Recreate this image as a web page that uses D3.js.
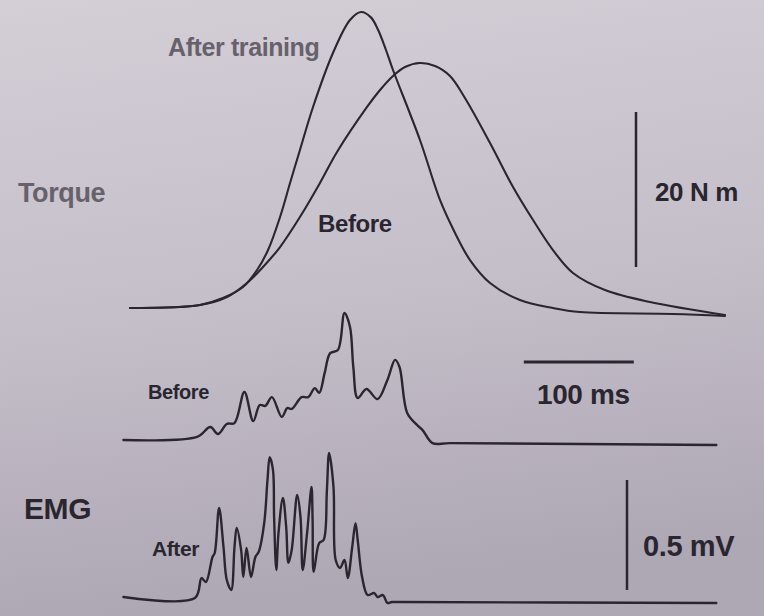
<!DOCTYPE html>
<html>
<head>
<meta charset="utf-8">
<title>Torque and EMG before / after training</title>
<script src="https://d3js.org/d3.v7.min.js"></script>
<style>
  body { margin: 0; }
  svg text { font-family: "Liberation Sans", Arial, sans-serif; font-weight: bold; }
</style>
</head>
<body>
<div id="chart"></div>
<script>
// time in ms, torque in N m
var torqueAfter = [[0,0],[45.5,0.13],[63.6,0.39],[84.5,1.29],[102.7,2.71],[115.5,4.9],[125.5,7.48],[136.4,11.74],[145.5,16.13],[154.5,20.39],[166.4,25.94],[184.5,32.9],[200,37.16],[210,38.19],[219,37.5],[225.5,35.9],[232.7,33.29],[239.1,30.71],[263.6,21.68],[281.8,13.94],[295.5,9.68],[309.1,6.19],[327.3,3.23],[354.5,1.03],[384.5,0],[409.1,-0.52],[493.6,-0.77],[540.9,-1.03]];
var torqueBefore = [[0,0],[63.6,0.39],[88.2,1.42],[106.4,3.23],[120.9,5.29],[136.4,7.87],[154.5,11.74],[172.7,16.13],[188.2,20.13],[215.5,25.94],[227.3,28.13],[239.1,29.94],[250,31.1],[263.6,31.61],[277.3,31.23],[290.9,29.94],[304.5,27.1],[327.3,21.29],[348.2,15.61],[366.4,11.35],[384.5,7.48],[402.7,4.52],[431.8,2.32],[472.7,0.77],[540.9,-0.9]];

// time in ms, rectified EMG in mV
var emgBefore = [[-6,0],[61,0.014],[73,0.059],[80,0.027],[88,0.073],[95,0.077],[104,0.218],[112,0.086],[118,0.159],[123,0.155],[129,0.195],[138,0.105],[143,0.145],[147,0.141],[156,0.195],[162,0.195],[168,0.236],[172,0.214],[177,0.305],[182,0.395],[189,0.409],[195,0.577],[200,0.514],[203,0.332],[207,0.191],[215,0.232],[225,0.186],[234,0.273],[241,0.364],[245,0.332],[252,0.123],[261,0.068],[266,0.045],[275,-0.014],[291,-0.014],[533,-0.023]];
var emgAfter = [[-6,0],[59,-0.005],[65,0.086],[69,0.068],[75,0.182],[77,0.2],[81,0.405],[85,0.227],[88,0.077],[92,0.032],[95,0.227],[97,0.314],[101,0.214],[103,0.091],[106,0.223],[110,0.091],[114,0.182],[117,0.205],[122,0.336],[125,0.532],[127,0.636],[130,0.577],[131,0.364],[133,0.123],[135,0.291],[139,0.45],[142,0.318],[144,0.155],[147,0.214],[152,0.464],[155,0.364],[157,0.123],[161,0.291],[165,0.5],[166,0.35],[167,0.114],[172,0.245],[176,0.259],[179,0.486],[181,0.655],[185,0.5],[187,0.168],[191,0.132],[195,0.168],[198,0.086],[202,0.227],[205,0.336],[207,0.259],[211,0.091],[216,0.009],[222,0.018],[225,0],[230,0.009],[234,-0.027],[238,-0.023],[245,-0.023],[533,-0.027]];

// scale bars
var timeBar = [358, 458];      // 100 ms
var torqueBar = [0, 20];       // 20 N m
var emgBar = [0, 0.5];         // 0.5 mV

var width = 764, height = 616;

var svg = d3.select("#chart")
    .append("svg")
    .attr("width", width)
    .attr("height", height);

var grad = svg.append("defs").append("linearGradient")
    .attr("id", "paper")
    .attr("x1", 0).attr("y1", 0).attr("x2", 0.15).attr("y2", 1);
grad.append("stop").attr("offset", "0%").attr("stop-color", "#d4ced7");
grad.append("stop").attr("offset", "55%").attr("stop-color", "#c4bec9");
grad.append("stop").attr("offset", "100%").attr("stop-color", "#aea7b4");

svg.append("rect")
    .attr("width", width)
    .attr("height", height)
    .attr("fill", "url(#paper)");

var ink = "#2a2630";
var grey = "#67616c";

// X: time
var x = d3.scaleLinear().domain([0, 540]).range([130, 724]);
// Y: torque, EMG before, EMG after
var yT = d3.scaleLinear().domain([0, 20]).range([308, 153]);
var yB = d3.scaleLinear().domain([0, 0.5]).range([440, 330]);
var yA = d3.scaleLinear().domain([0, 0.5]).range([597, 487]);

function trace(data, y, w) {
  svg.append("path")
    .datum(data)
    .attr("d", d3.line()
      .x(function(d) { return x(d[0]) })
      .y(function(d) { return y(d[1]) })
      .curve(d3.curveCatmullRom.alpha(0.5))
    )
    .style("fill", "none")
    .style("stroke", ink)
    .style("stroke-width", w)
    .style("stroke-linejoin", "round")
    .style("stroke-linecap", "round");
}

trace(torqueAfter, yT, 2.1);
trace(torqueBefore, yT, 2.1);
trace(emgBefore, yB, 2.4);
trace(emgAfter, yA, 2.4);

// scale bars
svg.append("line")
    .attr("x1", 636).attr("x2", 636)
    .attr("y1", yT(torqueBar[1]) - 41).attr("y2", yT(torqueBar[0]) - 41)
    .style("stroke", ink).style("stroke-width", 2.5);
svg.append("line")
    .attr("x1", x(timeBar[0])).attr("x2", x(timeBar[1]))
    .attr("y1", 362).attr("y2", 362)
    .style("stroke", ink).style("stroke-width", 3);
svg.append("line")
    .attr("x1", 627).attr("x2", 627)
    .attr("y1", yA(emgBar[1]) - 7).attr("y2", yA(emgBar[0]) - 7)
    .style("stroke", ink).style("stroke-width", 2.5);

// labels
function label(txt, tx, ty, size, col) {
  svg.append("text")
    .attr("x", tx).attr("y", ty)
    .attr("font-size", size)
    .attr("fill", col)
    .style("letter-spacing", "-0.4px")
    .text(txt);
}

label("Torque", 18, 202, 27, grey);
label("After training", 168, 56, 25, grey);
label("Before", 318, 232, 24, ink);
label("20 N m", 655, 201, 26, ink);
label("100 ms", 537, 404, 28, ink);
label("Before", 148, 399, 20, ink);
label("EMG", 24, 519, 30, ink);
label("After", 152, 556, 21, ink);
label("0.5 mV", 643, 556, 29, ink);
</script>
</body>
</html>
